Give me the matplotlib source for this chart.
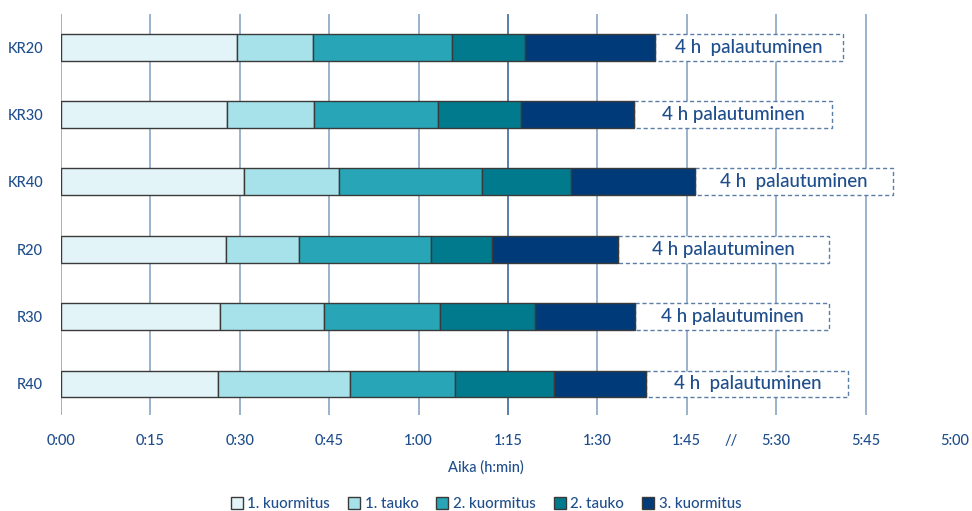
import matplotlib.pyplot as plt
from matplotlib.patches import Patch

# Data (minutes)
groups = ['KR20', 'KR30', 'KR40', 'R20', 'R30', 'R40']
phases = ['1. kuormitus', '1. tauko', '2. kuormitus', '2. tauko', '3. kuormitus']
load1 = [29.6, 27.8, 30.7, 27.7, 26.7, 26.4]
pause1 = [12.6, 14.6, 16.0, 12.2, 17.5, 22.1]
load2 = [23.4, 20.8, 23.9, 22.2, 19.4, 17.6]
pause2 = [12.3, 14.0, 14.9, 10.2, 16.0, 16.6]
load3 = [21.7, 19.0, 20.8, 21.2, 16.7, 15.5]
recovery_w = [31.6, 33.1, 33.3, 35.4, 32.6, 33.9]
recovery_txt = ['4 h  palautuminen', '4 h palautuminen', '4 h  palautuminen',
                '4 h palautuminen', '4 h palautuminen', '4 h  palautuminen']

tick_pos = [0, 15, 30, 45, 60, 75, 90, 105, 112.5, 120, 135, 150]
tick_lab = ['0:00', '0:15', '0:30', '0:45', '1:00', '1:15', '1:30', '1:45',
            '//', '5:30', '5:45', '5:00']
grid_pos = [0, 15, 30, 45, 60, 75, 90, 105, 120, 135]

colors = ['#e3f4f9', '#a7e2eb', '#28a5b7', '#017a8d', '#013a78']
txt_col = '#1f4e8c'

plt.rcParams['font.family'] = ['Lato', 'DejaVu Sans']
plt.rcParams['font.weight'] = 'medium'

fig = plt.figure(figsize=(9.72, 5.11), dpi=100)
ax = fig.add_axes([61 / 972, 1 - 415 / 511, 894 / 972, 401 / 511])

ypos = list(range(len(groups)))
for g in grid_pos:
    c = '#3b6aa0' if g == 75 else '#8ba4c4'
    ax.axvline(g, color=c, lw=1.2, zorder=0)

left = [0] * len(groups)
for series, col in zip([load1, pause1, load2, pause2, load3], colors):
    ax.barh(ypos, series, left=left, height=0.4, color=col,
            edgecolor='#3a3a3a', linewidth=1, zorder=2)
    left = [a + b for a, b in zip(left, series)]

ax.barh(ypos, recovery_w, left=left, height=0.4, color='white',
        edgecolor='#5b7ea8', linewidth=1, linestyle=(0, (3, 2)), zorder=1.5)
for y, l, w, t in zip(ypos, left, recovery_w, recovery_txt):
    ax.text(l + w / 2, y, t, ha='center', va='center', fontsize=13.5,
            color=txt_col, zorder=3)

ax.set_xlim(0, 150)
ax.set_ylim(5.46, -0.49)
ax.set_yticks(ypos)
ax.set_yticklabels(groups)
ax.set_xticks(tick_pos)
ax.set_xticklabels(tick_lab)
ax.tick_params(axis='x', length=0, pad=14, labelsize=10.5, labelcolor=txt_col)
ax.tick_params(axis='y', length=0, pad=13, labelsize=10.5, labelcolor=txt_col)
for s in ax.spines.values():
    s.set_visible(False)

fig.text(486 / 972, 1 - 467 / 511, 'Aika (h:min)', ha='center', va='center',
         fontsize=10.5, color=txt_col)

handles = [Patch(facecolor=c, edgecolor='#3a3a3a', linewidth=1) for c in colors]
fig.legend(handles, phases, loc='center', bbox_to_anchor=(0.5, 1 - 504 / 511),
           ncol=5, frameon=False, fontsize=10.8, handlelength=0.8,
           handleheight=0.8, handletextpad=0.3, columnspacing=1.2,
           labelcolor=txt_col)

fig.savefig('out.png', dpi=100)
